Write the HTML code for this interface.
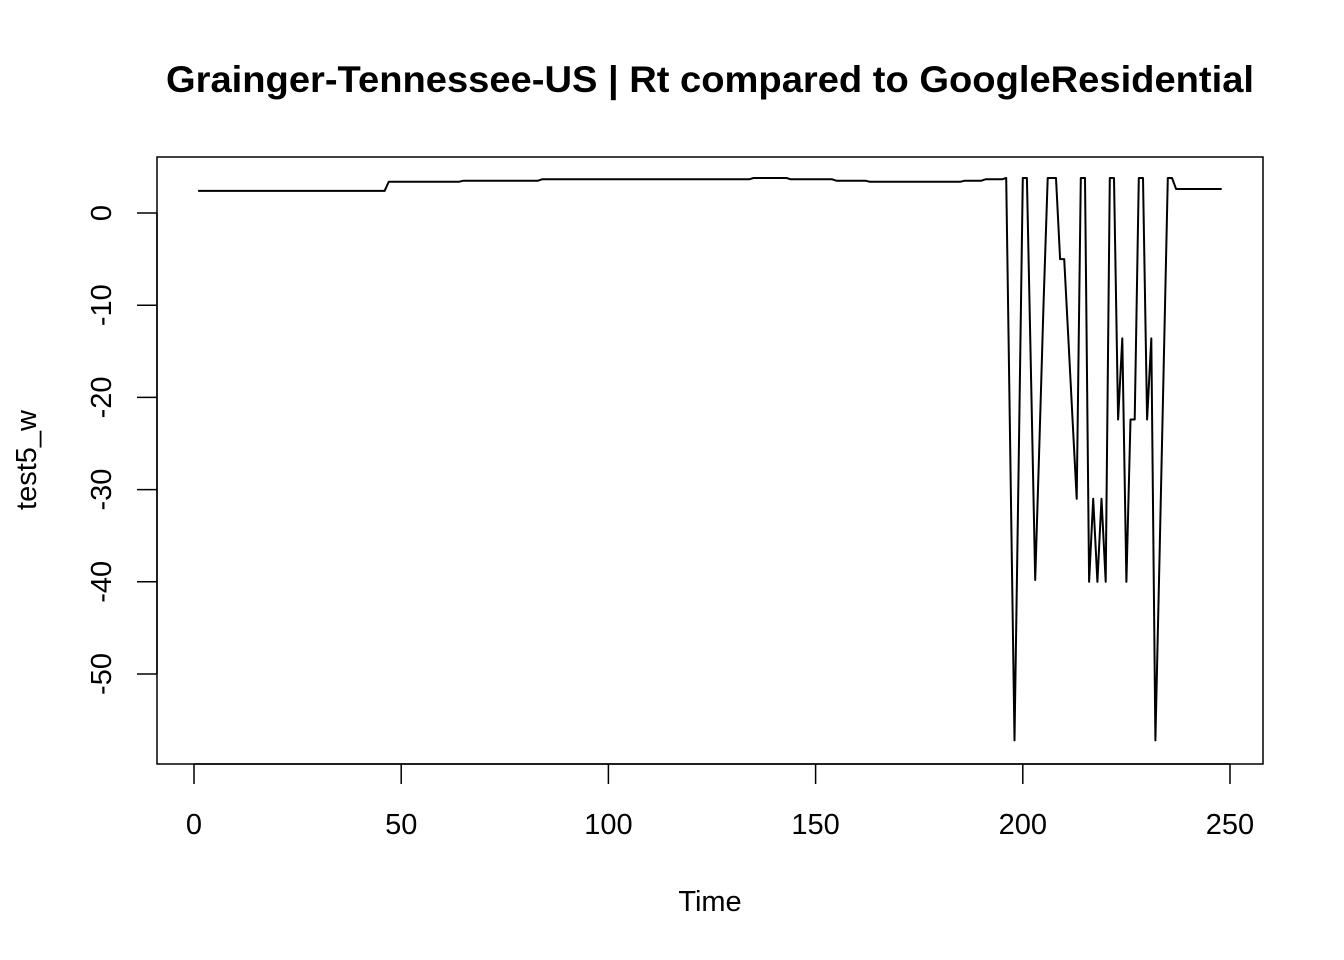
<!DOCTYPE html>
<html><head><meta charset="utf-8"><style>
html,body{margin:0;padding:0;background:#fff;}
svg{display:block;font-family:"Liberation Sans",Arial,sans-serif;}
</style></head><body>
<svg id="chart" width="1344" height="960">
<text x="710" y="92" text-anchor="middle" font-size="37" font-weight="bold" textLength="1088" lengthAdjust="spacingAndGlyphs">Grainger-Tennessee-US | Rt compared to GoogleResidential</text>
<rect x="157" y="157" width="1106" height="607" fill="none" stroke="#000" stroke-width="1.5"/>
<text x="710" y="911" text-anchor="middle" font-size="29">Time</text>
<text transform="translate(36,460) rotate(-90)" text-anchor="middle" font-size="29">test5_w</text>
<g id="xaxis"></g>
<g id="yaxis"></g>
<path id="series" fill="none" stroke="#000" stroke-width="2" stroke-linejoin="round"/>
</svg>
<script>
const xTicks = [0, 50, 100, 150, 200, 250];
const yTicks = [0, -10, -20, -30, -40, -50];
// flat runs [startTime, endTime, value]
const flatRuns = [[1,46,2.4],[47,64,3.4],[65,83,3.5],[84,134,3.65],[135,143,3.8],[144,154,3.65],[155,162,3.5],[163,185,3.4],[186,190,3.5],[191,195,3.65]];
const tailStart = 196;
const tailValues = [3.8,-27,-57.2,-27,3.8,3.8,-18,-39.8,-25,-10,3.8,3.8,3.8,-5,-5,-13.7,-22.3,-31,3.8,3.8,-40,-31,-40,-31,-40,3.8,3.8,-22.4,-13.6,-40,-22.4,-22.4,3.8,3.8,-22.4,-13.6,-57.2,-37,-16.6,3.8,3.8,2.6,2.6,2.6,2.6,2.6,2.6,2.6,2.6,2.6,2.6,2.6,2.6];
const NS='http://www.w3.org/2000/svg';
const xs = t => 194 + (t) * 4.144;
const ys = v => 213 - v * 9.22;
const times=[], vals=[];
flatRuns.forEach(r=>{for(let t=r[0];t<=r[1];t++){times.push(t);vals.push(r[2]);}});
tailValues.forEach((v,i)=>{times.push(tailStart+i);vals.push(v);});
document.getElementById('series').setAttribute('d', times.map((t,i)=>(i?'L':'M')+xs(t).toFixed(1)+','+ys(vals[i]).toFixed(1)).join(''));
const xa=document.getElementById('xaxis');
let p=document.createElementNS(NS,'line');
p.setAttribute('x1',xs(xTicks[0]));p.setAttribute('x2',xs(xTicks[xTicks.length-1]));p.setAttribute('y1',764);p.setAttribute('y2',764);p.setAttribute('stroke','#000');p.setAttribute('stroke-width','1.5');


xa.appendChild(p);
xTicks.forEach(t=>{
 const l=document.createElementNS(NS,'line');
 l.setAttribute('x1',xs(t));l.setAttribute('x2',xs(t));l.setAttribute('y1',764);l.setAttribute('y2',784);l.setAttribute('stroke','#000');l.setAttribute('stroke-width','1.5');
 
 
 xa.appendChild(l);
 const tx=document.createElementNS(NS,'text');
 tx.setAttribute('x',xs(t));tx.setAttribute('y',834);tx.setAttribute('text-anchor','middle');tx.setAttribute('font-size','29');tx.textContent=t;
 
 
 xa.appendChild(tx);
});
const ya=document.getElementById('yaxis');
let q=document.createElementNS(NS,'line');
q.setAttribute('x1',157);q.setAttribute('x2',157);q.setAttribute('y1',ys(yTicks[0]));q.setAttribute('y2',ys(yTicks[yTicks.length-1]));q.setAttribute('stroke','#000');q.setAttribute('stroke-width','1.5');


ya.appendChild(q);
yTicks.forEach(v=>{
 const l=document.createElementNS(NS,'line');
 l.setAttribute('x1',137);l.setAttribute('x2',157);l.setAttribute('y1',ys(v));l.setAttribute('y2',ys(v));l.setAttribute('stroke','#000');l.setAttribute('stroke-width','1.5');
 
 
 ya.appendChild(l);
 const tx=document.createElementNS(NS,'text');
 tx.setAttribute('transform','translate(111,'+ys(v)+') rotate(-90)');tx.setAttribute('text-anchor','middle');tx.setAttribute('font-size','29');tx.textContent=v;
 
 
 ya.appendChild(tx);
});
</script>
</body></html>
